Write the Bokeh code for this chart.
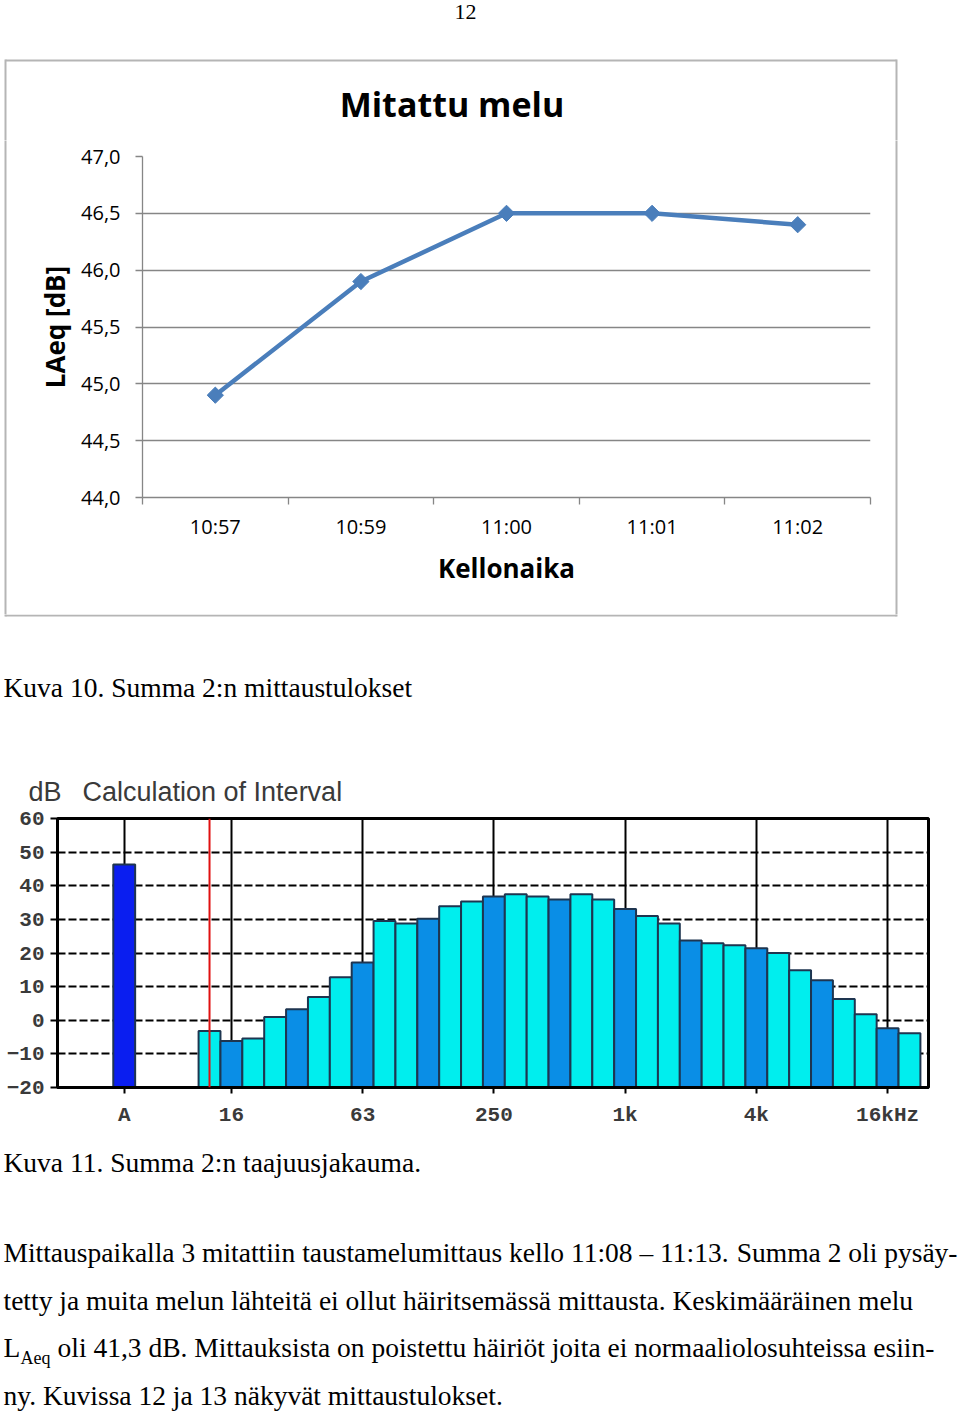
from bokeh.plotting import figure
from bokeh.layouts import column, row
from bokeh.models import (Range1d, FixedTicker, CustomJSTickFormatter, Span,
                          ColumnDataSource)
from bokeh.core.properties import value
from bokeh.embed import file_html
from bokeh.resources import INLINE

# ---------------- data ----------------
times = ["10:57", "10:59", "11:00", "11:01", "11:02"]
laeq = [44.9, 45.9, 46.5, 46.5, 46.4]
y_ticks_line = [44.0, 44.5, 45.0, 45.5, 46.0, 46.5, 47.0]

bands = ["12.5", "16", "20", "25", "31.5", "40", "50", "63", "80", "100", "125",
         "160", "200", "250", "315", "400", "500", "630", "800", "1k", "1.25k",
         "1.6k", "2k", "2.5k", "3.15k", "4k", "5k", "6.3k", "8k", "10k", "12.5k",
         "16k", "20k"]
levels = [-3.2, -6.2, -5.4, 1.0, 3.3, 6.9, 12.8, 17.2, 29.5, 28.8, 30.2, 33.9,
          35.3, 36.8, 37.5, 36.8, 35.9, 37.5, 35.9, 33.1, 31.0, 28.8, 23.7, 22.9,
          22.3, 21.4, 20.0, 14.9, 11.9, 6.3, 1.8, -2.4, -3.9]
a_weighted = 46.3
bar_tick_labels = ["A", "16", "63", "250", "1k", "4k", "16kHz"]
bar_tick_bands = ["16", "63", "250", "1k", "4k", "16k"]
y_ticks_bar = [-20, -10, 0, 10, 20, 30, 40, 50, 60]

page_number = "12"
chart_title = "Mitattu melu"
caption10 = "Kuva 10. Summa 2:n mittaustulokset"
caption11 = "Kuva 11. Summa 2:n taajuusjakauma."
para1 = ["Mittauspaikalla 3 mitattiin taustamelumittaus kello 11:08 \u2013 11:13.",
         "Summa 2 oli pysäy-"]
para2 = "tetty ja muita melun lähteitä ei ollut häiritsemässä mittausta. Keskimääräinen melu"
para3 = "oli 41,3 dB. Mittauksista on poistettu häiriöt joita ei normaaliolosuhteissa esiin-"
para4 = "ny. Kuvissa 12 ja 13 näkyvät mittaustulokset."

W = 960
SERIF = value("Liberation Serif")
BOX = "#b5b5b5"
BASE_FIX = 0.385  # baseline correction, fraction of font size


def text_fig(w, h):
    p = figure(width=w, height=h, x_range=Range1d(0, w), y_range=Range1d(h, 0),
               min_border=0, toolbar_location=None, output_backend="svg",
               x_axis_type=None, y_axis_type=None, frame_align=False,
               title_location=None)
    p.grid.visible = False
    p.outline_line_color = None
    p.background_fill_color = "white"
    p.border_fill_color = "white"
    return p


def put(p, x, y, s, size=27.5, align="left", font=SERIF, color="black", style="normal"):
    p.text(x=[x], y=[y - BASE_FIX * size], text=[s], text_font=font,
           text_font_size=f"{size}px", text_align=align, text_font_style=style,
           text_baseline="alphabetic", text_color=color)


# ---------------- top: page number, top of box, chart title ----------------
TOP_H = 140
t0 = text_fig(W, TOP_H)
put(t0, 465, 20, page_number, size=22, align="center")
t0.line(x=[5, 896], y=[60, 60], line_color=BOX, line_width=2)
t0.segment(x0=[5, 896], y0=[59, 59], x1=[5, 896], y1=[TOP_H + 3, TOP_H + 3],
           line_color=BOX, line_width=2)
put(t0, 451.5, 116.5, chart_title, size=34, align="center",
    font=value("Open Sans"), style="bold")

# ---------------- line chart ----------------
ROW_H = 614 - TOP_H
p1 = figure(width=882, height=ROW_H, x_range=Range1d(0, 5), y_range=Range1d(44, 47),
            toolbar_location=None, output_backend="svg", frame_align=False,
            title_location=None,
            min_border_left=134, min_border_right=20, min_border_top=156 - TOP_H,
            min_border_bottom=117)
p1.outline_line_color = None
p1.background_fill_color = "white"
p1.border_fill_color = "white"

yax = p1.yaxis[0]
yax.ticker = FixedTicker(ticks=y_ticks_line)
yax.formatter = CustomJSTickFormatter(code="return tick.toFixed(1).replace('.', ',')")
yax.axis_line_color = "#868686"
yax.axis_line_width = 1.3
yax.major_tick_out = 7
yax.major_tick_in = 0
yax.major_tick_line_color = "#868686"
yax.major_tick_line_width = 1.3
yax.minor_tick_line_color = None
yax.major_label_text_font = "Open Sans"
yax.major_label_text_font_size = "20px"
yax.major_label_text_color = "black"
yax.major_label_standoff = 15
yax.axis_label = "LAeq [dB]"
yax.axis_label_text_font = "Open Sans"
yax.axis_label_text_font_style = "bold"
yax.axis_label_text_font_size = "26px"
yax.axis_label_text_color = "black"
yax.axis_label_standoff = 5

xax = p1.xaxis[0]
xax.ticker = FixedTicker(ticks=[i + 0.5 for i in range(len(times))],
                         minor_ticks=[i for i in range(len(times) + 1)])
xax.major_label_overrides = {i + 0.5: t for i, t in enumerate(times)}
xax.axis_line_color = "#868686"
xax.axis_line_width = 1.3
xax.major_tick_line_color = None
xax.minor_tick_out = 7
xax.minor_tick_in = 0
xax.minor_tick_line_color = "#868686"
xax.minor_tick_line_width = 1.3
xax.major_label_text_font = "Open Sans"
xax.major_label_text_font_size = "20px"
xax.major_label_text_color = "black"
xax.major_label_standoff = 8
xax.axis_label = "Kellonaika"
xax.axis_label_text_font = "Open Sans"
xax.axis_label_text_font_style = "bold"
xax.axis_label_text_font_size = "26px"
xax.axis_label_text_color = "black"
xax.axis_label_standoff = 7

p1.xgrid.visible = False
p1.ygrid.ticker = FixedTicker(ticks=y_ticks_line)
p1.ygrid.grid_line_color = "#868686"
p1.ygrid.grid_line_width = 1.3

src1 = ColumnDataSource(dict(x=[i + 0.5 for i in range(len(times))], y=laeq))
p1.line("x", "y", source=src1, line_color="#4A7EBB", line_width=4.5)
p1.scatter("x", "y", source=src1, marker="square", size=11.5, angle=0.785398,
           fill_color="#4A7EBB", line_color="#4A7EBB")

# side strips carrying the box's vertical edges
sL = text_fig(8, ROW_H)
sL.line(x=[5, 5], y=[-3, ROW_H + 3], line_color=BOX, line_width=2)
sR = text_fig(70, ROW_H)
sR.line(x=[6, 6], y=[-3, ROW_H + 3], line_color=BOX, line_width=2)

# ---------------- bottom of box, caption, spectrum title ----------------
t1 = text_fig(W, 194)
t1.line(x=[5, 896], y=[1, 1], line_color=BOX, line_width=2)
t1.segment(x0=[5, 896], y0=[-3, -3], x1=[5, 896], y1=[2, 2], line_color=BOX, line_width=2)
put(t1, 3, 84, caption10)
SANS = value("Liberation Sans")
put(t1, 28, 188, "dB", size=27, font=SANS, color="#3a3a3a")
put(t1, 82, 188, "Calculation of Interval", size=27, font=SANS, color="#3a3a3a")

# ---------------- spectrum bar chart ----------------
A_POS = -3.9
p2 = figure(width=W, height=327, x_range=Range1d(-6.95, 32.87), y_range=Range1d(-20, 60),
            toolbar_location=None, output_backend="svg", frame_align=False,
            title_location=None,
            min_border_left=57, min_border_right=32, min_border_top=10,
            min_border_bottom=48)
p2.background_fill_color = "white"
p2.border_fill_color = "white"
p2.outline_line_color = "black"
p2.outline_line_width = 3

band_x = list(range(len(bands)))
colors = ["#0A8EE6" if i % 3 == 1 else "#00EEEE" for i in band_x]
p2.vbar(x=band_x, width=1.0, bottom=-20, top=levels, fill_color=colors,
        line_color="#1E3550", line_width=2)
p2.vbar(x=[A_POS], width=1.0, bottom=-20, top=[a_weighted], fill_color="#0A1EF0",
        line_color="#1E3550", line_width=2)

tick_pos = [A_POS] + [bands.index(b) for b in bar_tick_bands]
xt = FixedTicker(ticks=tick_pos)
ax2 = p2.xaxis[0]
ax2.ticker = xt
ax2.major_label_overrides = {pos: lab for pos, lab in zip(tick_pos, bar_tick_labels)}
ax2.axis_line_width = 3
ax2.major_tick_out = 6
ax2.major_tick_in = 0
ax2.major_tick_line_width = 2
ax2.minor_tick_line_color = None
ax2.major_label_text_font = "Liberation Mono"
ax2.major_label_text_font_style = "bold"
ax2.major_label_text_font_size = "21px"
ax2.major_label_text_color = "#3a3a3a"
ax2.major_label_standoff = 10

ay2 = p2.yaxis[0]
ay2.ticker = FixedTicker(ticks=y_ticks_bar)
ay2.axis_line_width = 3
ay2.major_tick_out = 7
ay2.major_tick_in = 0
ay2.major_tick_line_width = 2
ay2.minor_tick_line_color = None
ay2.major_label_text_font = "Liberation Mono"
ay2.major_label_text_font_style = "bold"
ay2.major_label_text_font_size = "21px"
ay2.major_label_text_color = "#3a3a3a"
ay2.major_label_standoff = 6

p2.xgrid.ticker = xt
p2.xgrid.grid_line_color = "black"
p2.xgrid.grid_line_width = 2
p2.ygrid.ticker = FixedTicker(ticks=y_ticks_bar)
p2.ygrid.grid_line_color = "black"
p2.ygrid.grid_line_width = 2
p2.ygrid.grid_line_dash = "8 3"

p2.add_layout(Span(location=0, dimension="height", line_color="#E01010", line_width=2))

# ---------------- caption + paragraph ----------------
t2 = text_fig(W, 279)
put(t2, 3, 38, caption11)
put(t2, 3, 128, para1[0])
put(t2, 957, 128, para1[1], align="right")
put(t2, 3, 176, para2)
put(t2, 3, 223, "L")
put(t2, 20, 229, "Aeq", size=18)
put(t2, 57, 223, para3)
put(t2, 3, 271, para4)

root = column(t0, row(sL, p1, sR, spacing=0), t1, p2, t2, spacing=0)
open("out.html", "w").write(file_html(root, INLINE))
